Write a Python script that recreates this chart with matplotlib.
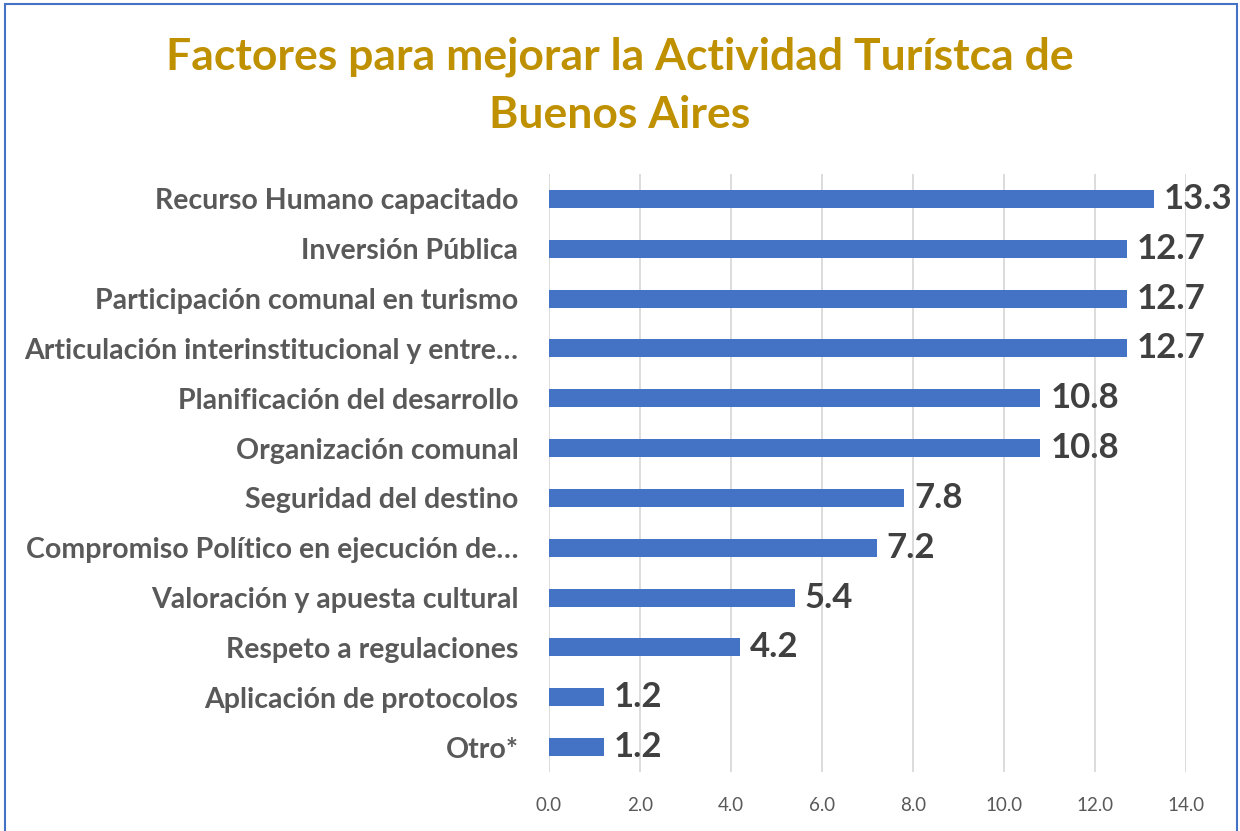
import matplotlib.pyplot as plt
from matplotlib.patches import Rectangle

categories = [
    "Recurso Humano capacitado",
    "Inversión Pública",
    "Participación comunal en turismo",
    "Articulación interinstitucional y entre…",
    "Planificación del desarrollo",
    "Organización comunal",
    "Seguridad del destino",
    "Compromiso Político en ejecución de…",
    "Valoración y apuesta cultural",
    "Respeto a regulaciones",
    "Aplicación de protocolos",
    "Otro*",
]
values = [13.3, 12.7, 12.7, 12.7, 10.8, 10.8, 7.8, 7.2, 5.4, 4.2, 1.2, 1.2]
xticks = [0, 2, 4, 6, 8, 10, 12, 14]

plt.rcParams['font.family'] = ['Lato', 'DejaVu Sans']

fig = plt.figure(figsize=(12.4, 8.31), dpi=100)
W, H = 1240, 831
ax = fig.add_axes([549 / W, 1 - 772 / H, (1186 - 549) / W, (772 - 174) / H])

pos = list(range(len(categories)))
ax.barh(pos, values, height=0.36, color='#4472C4', zorder=3)
ax.set_ylim(len(categories) - 0.5, -0.5)
ax.set_xlim(0, 14)
ax.set_xticks(xticks)
ax.set_xticklabels([f"{t:.1f}" for t in xticks], fontsize=13.5, color='#595959')
ax.set_yticks(pos)
ax.set_yticklabels(categories, fontsize=20.5, fontweight='bold', color='#595959')
ax.tick_params(axis='both', length=0)
ax.tick_params(axis='y', pad=22)
ax.tick_params(axis='x', pad=18)
ax.grid(axis='x', color='#D9D9D9', linewidth=1.3, zorder=0)
for s in ax.spines.values():
    s.set_visible(False)

for p, v in zip(pos, values):
    ax.text(v + 0.22, p, f"{v:.1f}", va='center', ha='left', fontsize=25,
            fontweight='bold', color='#404040', zorder=4)

title_lines = ["Factores para mejorar la Actividad Turístca de", "Buenos Aires"]
for line, yp in zip(title_lines, [57, 115]):
    fig.text(0.5, 1 - yp / H, line, ha='center', va='center', fontsize=32,
             fontweight='bold', color='#BF9000')

fig.patches.append(Rectangle((5 / W, -0.05), (1237 - 5) / W, 1.05 - 4 / H,
                             transform=fig.transFigure, fill=False,
                             edgecolor='#4472C4', linewidth=1.5))

fig.savefig("out.png", dpi=100)
